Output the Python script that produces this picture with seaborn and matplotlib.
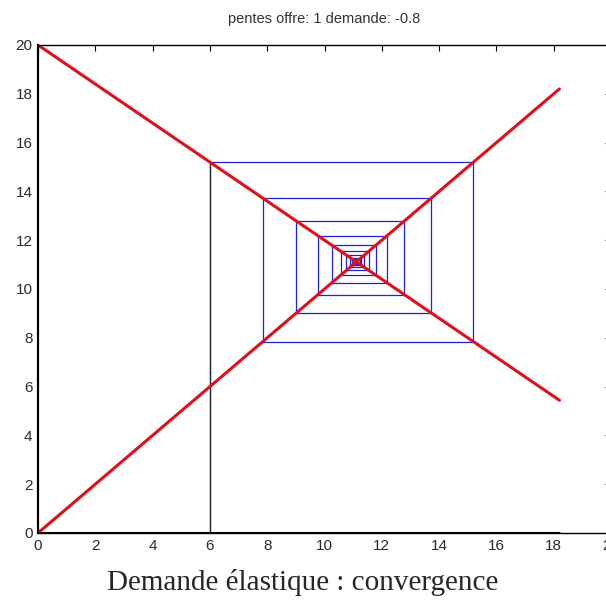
'''
plot.py
Cobweb diagram: supply slope 1, demand slope -0.8 (elastic demand, convergence)
'''

import numpy as np
import pandas as pd
import matplotlib
matplotlib.use('Agg')
import matplotlib.pyplot as plt
import seaborn as sns


# Supply and demand lines
SUPPLY_X = [0, 18.2]
SUPPLY_Y = [0, 18.2]
DEMAND_X = [0, 18.2]
DEMAND_Y = [20, 5.44]

# Successive prices of the cobweb, starting at quantity 6
COBWEB_P = [6.0, 15.2, 7.84, 13.73, 9.02, 12.79, 9.77, 12.18, 10.25, 11.80,
            10.56, 11.55, 10.76, 11.39, 10.89, 11.29, 10.97, 11.23, 11.02,
            11.18, 11.05, 11.16, 11.07, 11.14, 11.09, 11.13, 11.10]

TITLE = 'pentes offre: 1 demande: -0.8'
CAPTION = 'Demande élastique : convergence'
X_TICKS = list(range(0, 21, 2))
Y_TICKS = list(range(0, 21, 2))


def cobweb_frame(prices):
    '''Step path: up to demand, across to supply, and so on'''
    xs, ys = [prices[0]], [0.0]
    for k in range(len(prices) - 1):
        xs += [prices[k], prices[k + 1]]
        ys += [prices[k + 1], prices[k + 1]]
    return pd.DataFrame({'x': xs, 'y': ys})


def main():
    sns.set_style('white')
    plt.rcParams['font.family'] = ['Liberation Sans Narrow', 'Liberation Sans',
                                   'DejaVu Sans']

    fig = plt.figure(figsize=(6.06, 6.04), dpi=100)
    ax = fig.add_axes([38 / 606, 71 / 604, 573 / 606, 488 / 604])

    web = cobweb_frame(COBWEB_P)
    # first vertical segment is drawn dark, the rest blue
    sns.lineplot(data=web.iloc[1:], x='x', y='y', sort=False, estimator=None,
                 color='#2020d8', lw=0.9, ax=ax)
    sns.lineplot(data=web.iloc[:2], x='x', y='y', sort=False, estimator=None,
                 color='#1c1c2c', lw=1.0, ax=ax)

    # base line along the quantity axis
    sns.lineplot(x=[0, 18.2], y=[0, 0], color='black', lw=2.2, ax=ax)

    sns.lineplot(x=SUPPLY_X, y=SUPPLY_Y, color='#e0101a', lw=2.2, ax=ax)
    sns.lineplot(x=DEMAND_X, y=DEMAND_Y, color='#e0101a', lw=2.2, ax=ax)

    ax.set_xlim(0, 20)
    ax.set_ylim(0, 20)
    ax.set_xticks(X_TICKS)
    ax.set_yticks(Y_TICKS)
    ax.set_xlabel('')
    ax.set_ylabel('')
    ax.tick_params(direction='in', length=4, width=0.8, colors='black',
                   labelcolor='#2a2a2a', labelsize=11,
                   top=True, right=True, pad=4)
    for sp in ax.spines.values():
        sp.set_color('black')
        sp.set_linewidth(1.0)
    ax.spines['left'].set_linewidth(1.6)

    ax.set_title(TITLE, fontsize=10.5, color='#333333', pad=16)

    fig.text(0.5, 0.035, CAPTION, ha='center', va='center', fontsize=21,
             family=['Liberation Serif', 'DejaVu Serif'])

    fig.savefig('out.png', dpi=100, facecolor='white')


if __name__ == '__main__':
    main()
